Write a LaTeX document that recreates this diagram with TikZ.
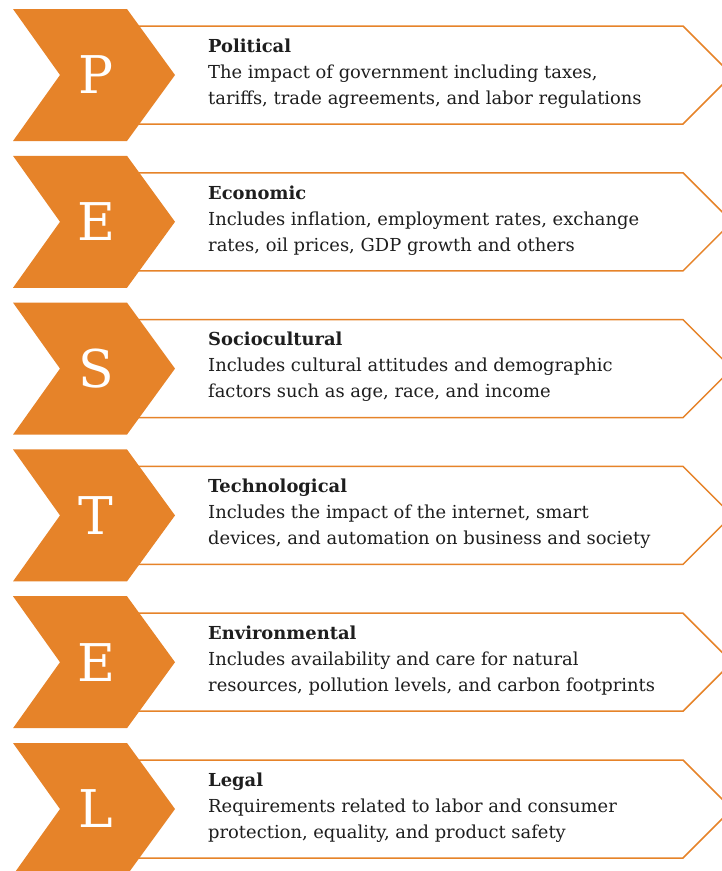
\documentclass[tikz,border=0pt]{standalone}
\usepackage{fontspec}
\setmainfont{DejaVu Serif}
\usepackage{tikz}
\definecolor{pestorange}{RGB}{230,131,41}
\definecolor{pesttext}{RGB}{30,30,30}
\tikzstyle{chevron}=[fill=pestorange,draw=none]
\tikzstyle{outline}=[draw=pestorange,line width=1.5pt,fill=white]
\tikzstyle{letter}=[text=white,font=\fontsize{52}{52}\selectfont,inner sep=0pt]
\tikzstyle{desc}=[anchor=north west,align=left,inner sep=0pt,text=pesttext,font=\fontsize{17.9}{26}\selectfont]

\begin{document}
\begin{tikzpicture}[x=1pt,y=-1pt]
\useasboundingbox (0,0) rectangle (722,871);

% political
\draw[outline] (138,26) -- (683,26) -- (732,75) -- (683,124) -- (138,124) -- cycle;
\fill[chevron] (13,9) -- (127,9) -- (175,75) -- (127,141) -- (13,141) -- (60,75) -- cycle;
\node[letter] (p) at (96,75) {P};
\node[desc] (political) at (208,38.5) {\textbf{Political}\\The impact of government including taxes,\\tariffs, trade agreements, and labor regulations};

% economic
\draw[outline] (138,172.8) -- (683,172.8) -- (732,221.8) -- (683,270.8) -- (138,270.8) -- cycle;
\fill[chevron] (13,155.8) -- (127,155.8) -- (175,221.8) -- (127,287.8) -- (13,287.8) -- (60,221.8) -- cycle;
\node[letter] (e) at (96,221.8) {E};
\node[desc] (economic) at (208,185.3) {\textbf{Economic}\\Includes inflation, employment rates, exchange\\rates, oil prices, GDP growth and others};

% sociocultural
\draw[outline] (138,319.6) -- (683,319.6) -- (732,368.6) -- (683,417.6) -- (138,417.6) -- cycle;
\fill[chevron] (13,302.6) -- (127,302.6) -- (175,368.6) -- (127,434.6) -- (13,434.6) -- (60,368.6) -- cycle;
\node[letter] (s) at (96,368.6) {S};
\node[desc] (sociocultural) at (208,332.1) {\textbf{Sociocultural}\\Includes cultural attitudes and demographic\\factors such as age, race, and income};

% technological
\draw[outline] (138,466.4) -- (683,466.4) -- (732,515.4) -- (683,564.4) -- (138,564.4) -- cycle;
\fill[chevron] (13,449.4) -- (127,449.4) -- (175,515.4) -- (127,581.4) -- (13,581.4) -- (60,515.4) -- cycle;
\node[letter] (t) at (96,515.4) {T};
\node[desc] (technological) at (208,478.9) {\textbf{Technological}\\Includes the impact of the internet, smart\\devices, and automation on business and society};

% environmental
\draw[outline] (138,613.2) -- (683,613.2) -- (732,662.2) -- (683,711.2) -- (138,711.2) -- cycle;
\fill[chevron] (13,596.2) -- (127,596.2) -- (175,662.2) -- (127,728.2) -- (13,728.2) -- (60,662.2) -- cycle;
\node[letter] (e2) at (96,662.2) {E};
\node[desc] (environmental) at (208,625.7) {\textbf{Environmental}\\Includes availability and care for natural\\resources, pollution levels, and carbon footprints};

% legal
\draw[outline] (138,760) -- (683,760) -- (732,809) -- (683,858) -- (138,858) -- cycle;
\fill[chevron] (13,743) -- (127,743) -- (175,809) -- (127,875) -- (13,875) -- (60,809) -- cycle;
\node[letter] (l) at (96,809) {L};
\node[desc] (legal) at (208,772.5) {\textbf{Legal}\\Requirements related to labor and consumer\\protection, equality, and product safety};

\end{tikzpicture}
\end{document}
